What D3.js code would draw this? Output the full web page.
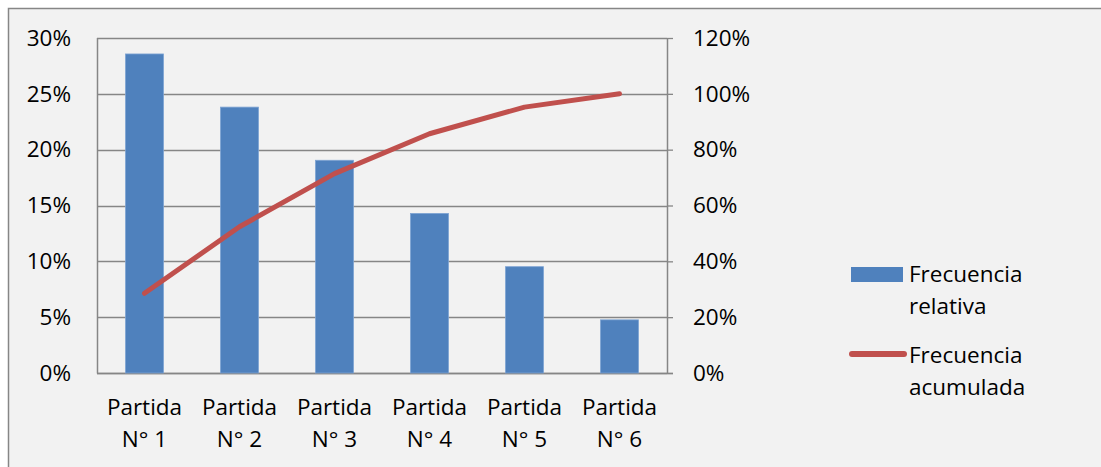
<!DOCTYPE html>
<html><head><meta charset="utf-8">
<script src="https://cdn.jsdelivr.net/npm/d3@7"></script>
<style>
html,body{margin:0;padding:0;background:#fff;}
svg{display:block;}
text{font-family:"Open Sans",sans-serif;fill:#000;}
</style></head><body>
<script>
const categories = ["Partida N° 1","Partida N° 2","Partida N° 3","Partida N° 4","Partida N° 5","Partida N° 6"];
const relativa = [0.2857,0.2381,0.1905,0.1429,0.0952,0.0476];
const acumulada = [0.2857,0.5238,0.7143,0.8571,0.9524,1.0];
const leftTicks = [0,0.05,0.10,0.15,0.20,0.25,0.30];
const rightTicks = [0,0.2,0.4,0.6,0.8,1.0,1.2];
const seriesNames = ["Frecuencia relativa","Frecuencia acumulada"];

const W=1101,H=467;
const svg=d3.select("body").append("svg").attr("width",W).attr("height",H);
svg.append("rect").attr("x",8.5).attr("y",8.5).attr("width",W+10).attr("height",H+10)
  .attr("fill","#f2f2f2").attr("stroke","#868686").attr("stroke-width",1.5);

const L=97,R=667,T=38,B=373;
const x=d3.scaleBand().domain(categories).range([L,R]).paddingInner(0.6).paddingOuter(0.3);
const xc=d3.scaleBand().domain(categories).range([L,R]);
const yL=d3.scaleLinear().domain([0,0.30]).range([B,T]);
const yR=d3.scaleLinear().domain([0,1.2]).range([B,T]);
const fs=22.5;

// gridlines
svg.append("g").selectAll("line").data(leftTicks).join("line")
  .attr("x1",L).attr("x2",R).attr("y1",d=>Math.round(yL(d))+0.5).attr("y2",d=>Math.round(yL(d))+0.5)
  .attr("stroke","#868686").attr("stroke-width",1.3);

// axes
const axL=d3.axisLeft(yL).tickValues(leftTicks).tickFormat(d3.format(".0%")).tickSize(0).tickPadding(26);
const gL=svg.append("g").attr("transform",`translate(${L},0)`).call(axL);
const axR=d3.axisRight(yR).tickValues(rightTicks).tickFormat(d3.format(".0%")).tickSize(6).tickPadding(20);
const gR=svg.append("g").attr("transform",`translate(${R},0)`).call(axR);
[gL,gR].forEach(g=>{
  g.select(".domain").attr("stroke","#868686").attr("stroke-width",1.5);
  g.selectAll(".tick line").attr("stroke","#868686").attr("stroke-width",1.3);
  g.selectAll("text").attr("font-size",fs).attr("font-family","Open Sans").attr("fill","#000");
});
gL.select(".domain").attr("d",`M0.5,${T}V${B+0.5}`);
gR.select(".domain").attr("d",`M0.5,${T}V${B+0.5}`);

// bottom axis line
svg.append("line").attr("x1",L).attr("x2",R+6).attr("y1",B+0.5).attr("y2",B+0.5).attr("stroke","#868686").attr("stroke-width",1.5);

// bars
svg.append("g").selectAll("rect").data(categories).join("rect")
  .attr("x",d=>x(d)).attr("width",x.bandwidth())
  .attr("y",(d,i)=>yL(relativa[i])).attr("height",(d,i)=>B-yL(relativa[i]))
  .attr("fill","#4f81bd").attr("stroke","#7ea3d3").attr("stroke-width",0.8);

// line
const line=d3.line().x((d,i)=>xc(categories[i])+xc.bandwidth()/2).y(d=>yR(d));
svg.append("path").datum(acumulada).attr("d",line).attr("fill","none")
  .attr("stroke","#c0504d").attr("stroke-width",5).attr("stroke-linecap","round").attr("stroke-linejoin","round");

// category labels
const cl=svg.append("g").selectAll("text").data(categories).join("text")
  .attr("text-anchor","middle").attr("font-size",fs)
  .attr("x",d=>xc(d)+xc.bandwidth()/2);
cl.append("tspan").attr("x",d=>xc(d)+xc.bandwidth()/2).attr("y",415).text(d=>d.split(" ")[0]);
cl.append("tspan").attr("x",d=>xc(d)+xc.bandwidth()/2).attr("y",447).text(d=>d.split(" ").slice(1).join(" "));

// legend
const lg=svg.append("g");
lg.append("rect").attr("x",851).attr("y",267).attr("width",52).attr("height",15).attr("fill","#4f81bd");
lg.append("line").attr("x1",852).attr("x2",904).attr("y1",354).attr("y2",354)
  .attr("stroke","#c0504d").attr("stroke-width",6).attr("stroke-linecap","round");
const lt=[[seriesNames[0],282,314],[seriesNames[1],363,395]];
lt.forEach(([n,y1,y2])=>{
  const t=lg.append("text").attr("font-size",fs);
  const p=n.split(" ");
  t.append("tspan").attr("x",909).attr("y",y1).text(p[0]);
  t.append("tspan").attr("x",909).attr("y",y2).text(p[1]);
});
</script>
</body></html>
